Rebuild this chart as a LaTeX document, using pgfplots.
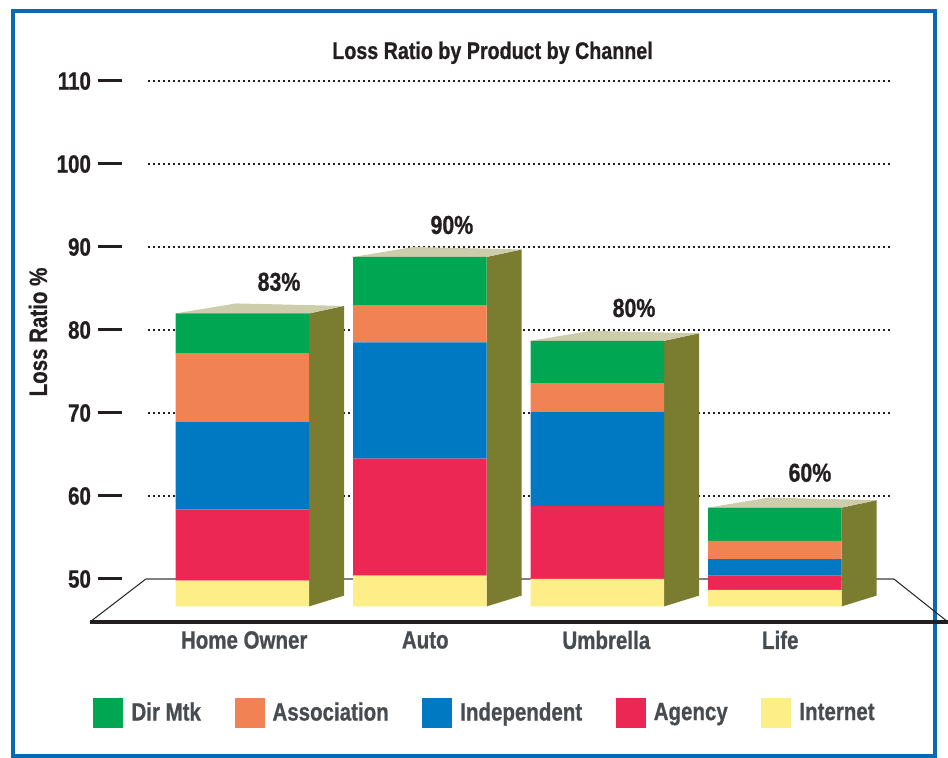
\documentclass[border=0pt]{standalone}
\usepackage{pgfplots}
\pgfplotsset{compat=1.18}
\usepackage{fontspec}
\setmainfont{Liberation Sans}[FakeStretch=0.82, BoldFeatures={FakeBold=0.8}]
\definecolor{cGreen}{HTML}{00A651}
\definecolor{cOrange}{HTML}{F08253}
\definecolor{cBlue}{HTML}{0079C2}
\definecolor{cRed}{HTML}{ED2754}
\definecolor{cYellow}{HTML}{FDEE87}
\definecolor{cSide}{HTML}{7A7C30}
\definecolor{cTop}{HTML}{CDCCAB}
\definecolor{cFrame}{HTML}{0A69B3}
\definecolor{cText}{HTML}{231F20}
\definecolor{cGray}{HTML}{464C50}
\newcommand{\chartfont}{\fontsize{12.5}{14}\selectfont\bfseries}
\pgfplotsset{sq/.style={legend image code/.code={\fill[##1] (0pt,-7.5pt) rectangle (15pt,7.5pt);}}}
\begin{document}
\begin{tikzpicture}[x=0.5pt,y=0.5pt]
\path[use as bounding box] (0,0) rectangle (948,758);
\draw[cFrame, line width=1.8pt] (13,2) rectangle (935,747);
% background axis: grid, ticks, floor, side and top faces
\begin{axis}[at={(74pt,68.75pt)}, anchor=south west,
  x=88.75pt, y=4.15pt, xmin=-0.532, xmax=3.648, ymin=45, ymax=112,
  clip=false, axis line style={draw=none}, xtick=\empty,
  ytick={50,60,...,110}, major tick length=0pt, no markers,
  ymajorgrids, grid style={cText, line width=0.9pt, dash pattern=on 0.9pt off 1.6pt},
  /pgf/number format/assume math mode=true,
  yticklabel={\pgfmathprintnumber{\tick}\hspace{3.4pt}\rule[3.6pt]{12.3pt}{1.7pt}},
  yticklabel style={anchor=east, inner sep=0pt, xshift=-12.65pt, font=\chartfont, text=cText},
]
% floor
\addplot[draw=gray, line width=1.1pt] coordinates {(-0.544,50) (3.670,50)};
\addplot[draw=cText, line width=0.5pt] coordinates {(-0.544,50) (-0.859,44.82)};
\addplot[draw=cText, line width=0.5pt] coordinates {(3.670,50) (3.975,44.82)};
\addplot[draw=cText, line width=2pt] coordinates {(-0.859,44.82) (3.975,44.82)};
% side faces
\addplot[draw=none, fill=cSide] coordinates {(0.376,46.7) (0.376,82.0) (0.573,82.9) (0.573,48.0)};
\addplot[draw=none, fill=cSide] coordinates {(1.376,46.7) (1.376,88.8) (1.573,89.7) (1.573,48.0)};
\addplot[draw=none, fill=cSide] coordinates {(2.376,46.7) (2.376,78.7) (2.573,79.6) (2.573,48.0)};
\addplot[draw=none, fill=cSide] coordinates {(3.376,46.7) (3.376,58.6) (3.573,59.5) (3.573,48.0)};
% top faces
\addplot[draw=none, fill=cTop] coordinates {(-0.376,82.0) (0.376,82.0) (0.573,82.9) (-0.036,83.2)};
\addplot[draw=none, fill=cTop] coordinates {(0.624,88.8) (1.376,88.8) (1.573,89.7) (0.964,90.0)};
\addplot[draw=none, fill=cTop] coordinates {(1.624,78.7) (2.376,78.7) (2.573,79.6) (1.964,79.9)};
\addplot[draw=none, fill=cTop] coordinates {(2.624,58.6) (3.376,58.6) (3.573,59.5) (2.964,59.8)};
\end{axis}
% foreground axis: stacked bars
\begin{axis}[at={(74pt,68.75pt)}, anchor=south west,
  x=88.75pt, y=4.15pt, xmin=-0.532, xmax=3.648, ymin=45, ymax=112,
  axis line style={draw=none}, ytick=\empty, major tick length=0pt,
  ybar stacked, bar width=66.75pt,
  xtick={0.01,1.03,2.05,3.03},
  xticklabels={Home Owner, Auto, Umbrella, Life},
  xticklabel style={anchor=center, yshift=-9.75pt, font=\chartfont, text=cGray},
  reverse legend, legend columns=5,
  legend style={at={(-0.0741,-0.1663)}, anchor=west, draw=none, fill=none, inner sep=0pt,
     font=\chartfont, text=cGray, nodes={inner sep=0pt},
     /tikz/every odd column/.style={column sep=4pt},
     /tikz/every even column/.style={column sep=16.8pt}},
]
\addplot[draw=none, fill=none, forget plot] coordinates {(0,46.7) (1,46.7) (2,46.7) (3,46.7)};
\addplot[draw=none, fill=cYellow, sq] coordinates {(0,3.1) (1,3.7) (2,3.3) (3,2.0)};
\addlegendentry{Internet}
\addplot[draw=none, fill=cRed, sq] coordinates {(0,8.6) (1,14.1) (2,8.8) (3,1.7)};
\addlegendentry{Agency}
\addplot[draw=none, fill=cBlue, sq] coordinates {(0,10.5) (1,14.0) (2,11.3) (3,2.0)};
\addlegendentry{Independent}
\addplot[draw=none, fill=cOrange, sq] coordinates {(0,8.3) (1,4.5) (2,3.5) (3,2.2)};
\addlegendentry{Association}
\addplot[draw=none, fill=cGreen, sq] coordinates {(0,4.8) (1,5.8) (2,5.1) (3,4.0)};
\addlegendentry{Dir Mtk}
\node[font=\fontsize{13}{15}\selectfont\bfseries, text=cText] at (axis cs:0.206,85.8) {83\%};
\node[font=\fontsize{13}{15}\selectfont\bfseries, text=cText] at (axis cs:1.18,92.65) {90\%};
\node[font=\fontsize{13}{15}\selectfont\bfseries, text=cText] at (axis cs:2.206,82.65) {80\%};
\node[font=\fontsize{13}{15}\selectfont\bfseries, text=cText] at (axis cs:3.197,62.8) {60\%};
\end{axis}
\node[anchor=base, font=\fontsize{12}{14}\selectfont\bfseries, text=cText] at (492.5,699) {Loss Ratio by Product by Channel};
\node[rotate=90, font=\chartfont, text=cText] at (38,426) {Loss Ratio \%};
\end{tikzpicture}
\end{document}
